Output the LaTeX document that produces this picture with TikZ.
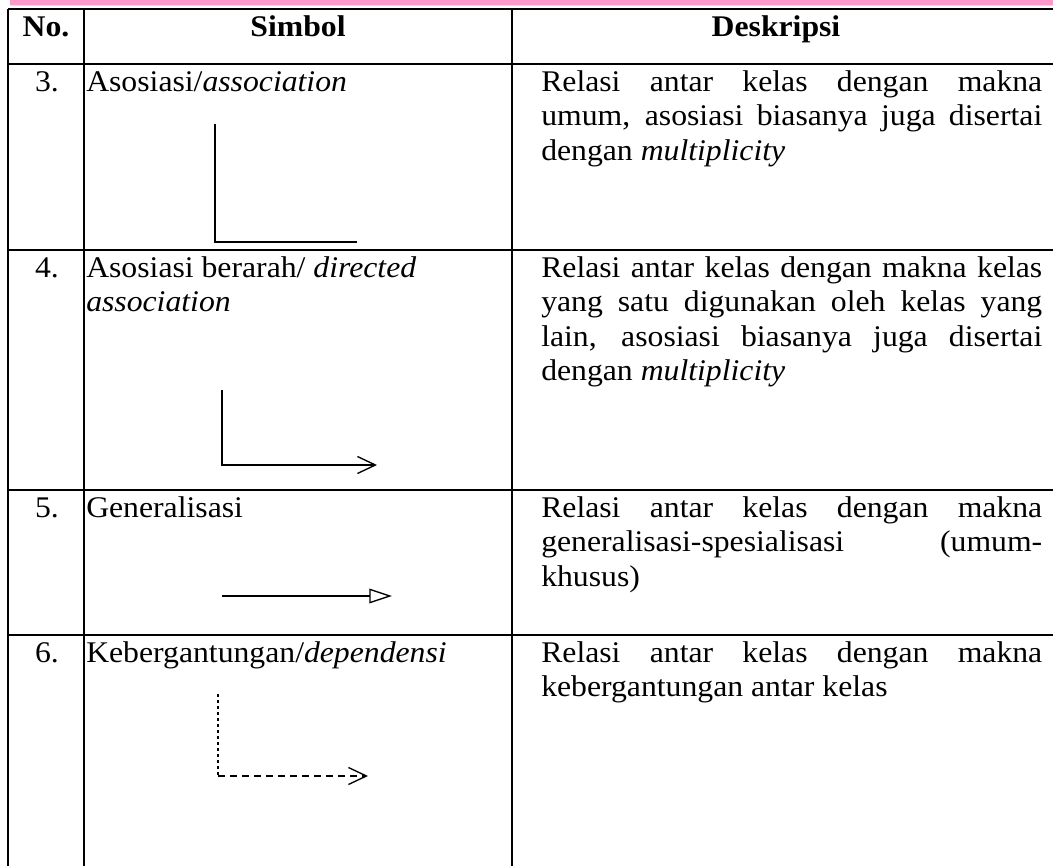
\documentclass[tikz,border=0pt]{standalone}
\usepackage{fontspec}
\setmainfont{Liberation Serif}[FakeStretch=1.057]
\usetikzlibrary{arrows.meta}
\newcommand{\jline}[1]{\makebox[375.75pt][s]{#1}}
\begin{document}
\begin{tikzpicture}[x=0.75pt,y=-0.75pt,
  every node/.style={inner sep=0pt,font=\fontsize{22.5pt}{26pt}\selectfont},
  txt/.style={anchor=base west},
  num/.style={anchor=base},
  hdr/.style={anchor=base,font=\fontsize{22.5pt}{26pt}\selectfont\bfseries},
  grid/.style={line width=1.5pt},
  sym/.style={line width=1pt},
  barb/.style={-{Straight Barb[length=13.5pt,width=12.75pt,line width=1pt]}},
  gen/.style={-{Triangle[open,length=17pt,width=11pt,line width=1pt]}},
  dsh/.style={dash pattern=on 5.5pt off 3.5pt},
  vdsh/.style={dash pattern=on 2.5pt off 2pt}]
\useasboundingbox (0,0) rectangle (1053,866);
% pink band
\fill[fill={rgb,255:red,255;green,153;blue,204}] (10,0) rectangle (1053,4.7);
\fill[fill={rgb,255:red,255;green,214;blue,235}] (10,4.7) rectangle (1053,6.5);
% grid
\draw[grid] (8,9.5) -- (1053,9.5);
\draw[grid] (8,64) -- (1053,64);
\draw[grid] (8,250) -- (1053,250);
\draw[grid] (8,490) -- (1053,490);
\draw[grid] (8,635) -- (1053,635);
\draw[grid] (8,9.5) -- (8,866);
\draw[grid] (84,9.5) -- (84,866);
\draw[grid] (512,9.5) -- (512,866);
% header
\node[hdr] (hno) at (46,37) {No.};
\node[hdr] (hsim) at (298,37) {Simbol};
\node[hdr] (hdes) at (776,37) {Deskripsi};
% row 3
\node[num] (n3) at (47,91.5) {3.};
\node[txt] (s3) at (86,91.5) {Asosiasi/\textit{association}};
\node[txt] (d3a) at (541,91.5) {\jline{Relasi antar kelas dengan makna}};
\node[txt] (d3b) at (541,126) {\jline{umum, asosiasi biasanya juga disertai}};
\node[txt] (d3c) at (541,160.5) {dengan \textit{multiplicity}};
\coordinate (a3s) at (215,124);
\coordinate (a3c) at (215,242);
\coordinate (a3e) at (357,242);
\draw[sym] (a3s) -- (a3c) -- (a3e);
% row 4
\node[num] (n4) at (47,277) {4.};
\node[txt] (s4a) at (86,277) {Asosiasi berarah/ \textit{directed}};
\node[txt] (s4b) at (86,311.5) {\textit{association}};
\node[txt] (d4a) at (541,277) {\jline{Relasi antar kelas dengan makna kelas}};
\node[txt] (d4b) at (541,311.5) {\jline{yang satu digunakan oleh kelas yang}};
\node[txt] (d4c) at (541,346) {\jline{lain, asosiasi biasanya juga disertai}};
\node[txt] (d4d) at (541,380.5) {dengan \textit{multiplicity}};
\coordinate (a4s) at (222,390);
\coordinate (a4c) at (222,465);
\coordinate (a4e) at (377,465);
\draw[sym,barb] (a4s) -- (a4c) -- (a4e);
% row 5
\node[num] (n5) at (47,517) {5.};
\node[txt] (s5) at (86,517) {Generalisasi};
\node[txt] (d5a) at (541,517) {\jline{Relasi antar kelas dengan makna}};
\node[txt] (d5b) at (541,551.5) {\jline{generalisasi-spesialisasi (umum-}};
\node[txt] (d5c) at (541,586) {khusus)};
\coordinate (a5s) at (222,596);
\coordinate (a5e) at (392,596);
\draw[sym,gen] (a5s) -- (a5e);
% row 6
\node[num] (n6) at (47,662) {6.};
\node[txt] (s6) at (86,662) {Kebergantungan/\textit{dependensi}};
\node[txt] (d6a) at (541,662) {\jline{Relasi antar kelas dengan makna}};
\node[txt] (d6b) at (541,696.5) {kebergantungan antar kelas};
\coordinate (a6s) at (218,694);
\coordinate (a6c) at (218,776);
\coordinate (a6e) at (368,776);
\draw[sym,vdsh] (a6s) -- (a6c);
\draw[sym,dsh,barb] (a6c) -- (a6e);
\end{tikzpicture}
\end{document}
